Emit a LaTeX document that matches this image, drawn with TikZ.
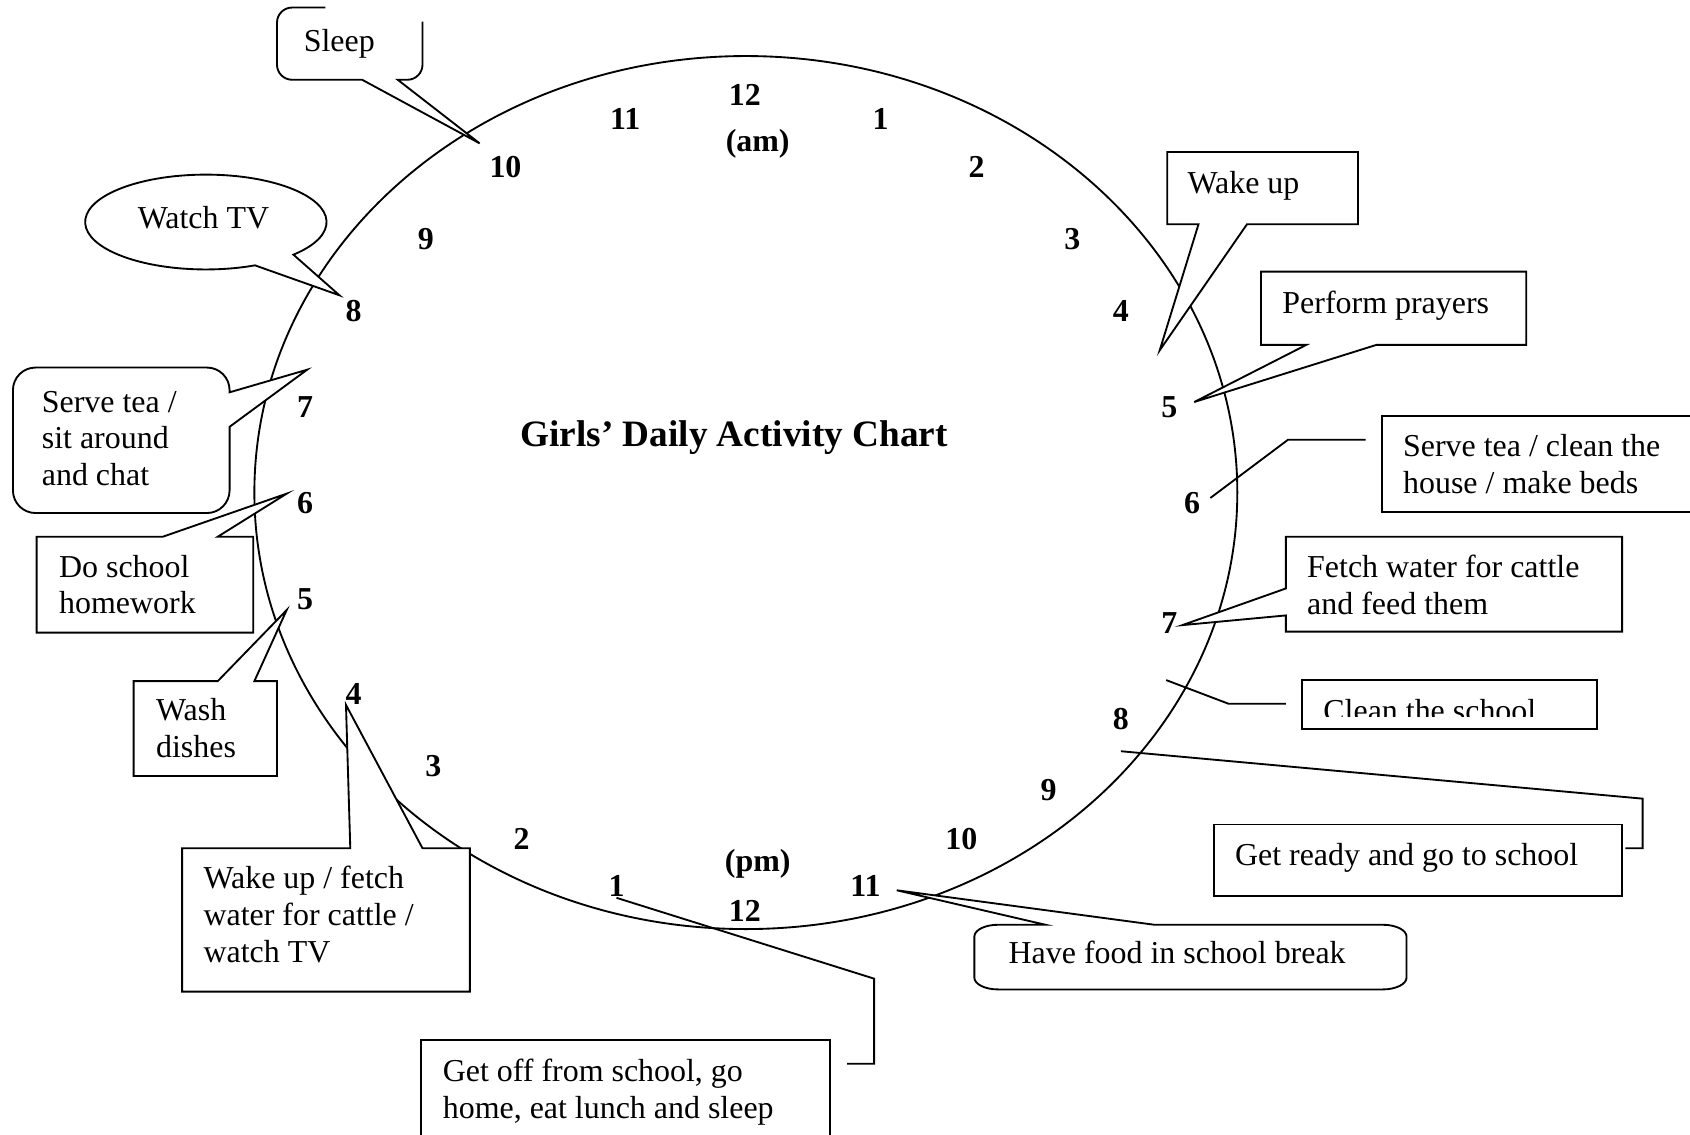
\documentclass[tikz,border=0pt]{standalone}
\usepackage{fontspec}
\setmainfont{Liberation Serif}
\begin{document}
\begin{tikzpicture}[x=0.405pt, y=-0.405pt, line width=0.7pt, line join=miter,
  every node/.style={inner sep=0pt},
  hour/.style={font=\fontsize{12pt}{13.8pt}\selectfont\bfseries, anchor=center},
  lbl/.style={font=\fontsize{12pt}{13.8pt}\selectfont, align=left, anchor=north west,
              execute at begin node=\strut},
  callout/.style={draw=black, fill=white},
  leader/.style={draw=black}
]
\useasboundingbox (0,0) rectangle (1568,1053);
\clip (0,0) rectangle (1568,1053);
\fill[white] (0,0) rectangle (1568,1053);

% clock face
\draw (692,457) ellipse [x radius=456, y radius=405];

% pointer tips and leader bends
\coordinate (sleeptip) at (445,133);
\coordinate (tvtip)    at (315,274);
\coordinate (chattip)  at (285,343);
\coordinate (hwtip)    at (266,458);
\coordinate (washtip)  at (266,566);
\coordinate (wftip)    at (321,654);
\coordinate (foodtip)  at (832,826);
\coordinate (fetchtip) at (1097,580);
\coordinate (prtip)    at (1108,373);
\coordinate (wutip)    at (1076,325);

\coordinate (go1) at (786,987);  \coordinate (go2) at (811,987);
\coordinate (go3) at (811,908);  \coordinate (go4) at (572,833);
\coordinate (gr1) at (1508,787); \coordinate (gr2) at (1524,787);
\coordinate (gr3) at (1524,741); \coordinate (gr4) at (1040,697);
\coordinate (cl1) at (1193,653); \coordinate (cl2) at (1140,653);
\coordinate (cl3) at (1082,631);
\coordinate (sc1) at (1267,408); \coordinate (sc2) at (1195,408);
\coordinate (sc3) at (1123,462);

% ---- callout shapes ----
% Sleep (rounded, top right corner open)
\draw[callout] (302,7) -- (271,7) arc[start angle=270, end angle=180, radius=14]
  -- (257,60) arc[start angle=180, end angle=90, radius=14]
  -- (336,74) -- (sleeptip) -- (369,74) -- (378,74)
  arc[start angle=90, end angle=0, radius=14] -- (392,20);

% Watch TV (oval)
\draw[callout] ([shift={(191,206)}]43.5:112 and 44)
  arc[start angle=43.5, end angle=-294, x radius=112, y radius=44]
  -- (tvtip) -- cycle;

% Serve tea / sit around and chat (rounded)
\draw[callout] (213,364) -- (chattip) -- (213,396) -- (213,455)
  arc[start angle=0, end angle=90, radius=21] -- (33,476)
  arc[start angle=90, end angle=180, radius=21] -- (12,362)
  arc[start angle=180, end angle=270, radius=21] -- (192,341)
  arc[start angle=270, end angle=360, radius=21] -- cycle;

% Do school homework
\draw[callout] (34,498) -- (151,498) -- (hwtip) -- (202,498) -- (235,498)
  -- (235,587) -- (34,587) -- cycle;

% Wash dishes
\draw[callout] (124,632) -- (202,632) -- (washtip) -- (236,632) -- (257,632)
  -- (257,720) -- (124,720) -- cycle;

% Wake up / fetch water / watch TV
\draw[callout] (169,787) -- (325,787) -- (wftip) -- (392,787) -- (436,787)
  -- (436,920) -- (169,920) -- cycle;

% Get off from school
\draw[callout] (391,965) rectangle (770,1080);

% Have food in school break
\draw[callout] (970,858) -- (foodtip) -- (1071,858) -- (1283,858)
  arc[start angle=270, end angle=360, x radius=22, y radius=11] -- (1305,907)
  arc[start angle=0, end angle=90, x radius=22, y radius=11] -- (926,918)
  arc[start angle=90, end angle=180, x radius=22, y radius=11] -- (904,869)
  arc[start angle=180, end angle=270, x radius=22, y radius=11] -- cycle;

% Get ready and go to school
\draw[callout] (1126,765) rectangle (1505,831);

% Clean the school
\draw[callout] (1208,631) rectangle (1482,676);

% Fetch water for cattle
\draw[callout] (1193,498) -- (1505,498) -- (1505,586) -- (1193,586) -- (1193,571)
  -- (fetchtip) -- (1193,546) -- cycle;

% Serve tea / clean the house
\draw[callout] (1282,386) rectangle (1580,475);

% Perform prayers
\draw[callout] (1170,252) -- (1416,252) -- (1416,320) -- (1277,320) -- (prtip)
  -- (1212,320) -- (1170,320) -- cycle;

% Wake up
\draw[callout] (1083,141) -- (1260,141) -- (1260,208) -- (1157,208) -- (wutip)
  -- (1112,208) -- (1083,208) -- cycle;

% ---- leader lines ----
\draw[leader] (go1) -- (go2) -- (go3) -- (go4);
\draw[leader] (gr1) -- (gr2) -- (gr3) -- (gr4);
\draw[leader] (cl1) -- (cl2) -- (cl3);
\draw[leader] (sc1) -- (sc2) -- (sc3);

% ---- activity texts ----
\node[lbl] (tSleep)   at (281,23)   {Sleep};
\node[lbl] (tTV)      at (127,187)  {Watch TV};
\node[lbl] (tChat)    at (38,362)   {Serve tea /\\sit around\\and chat};
\node[lbl] (tHW)      at (54,514)   {Do school\\homework};
\node[lbl] (tWash)    at (144,647)  {Wash\\dishes};
\node[lbl] (tWF)      at (188,803)  {Wake up / fetch\\water for cattle /\\watch TV};
\node[lbl] (tGetOff)  at (410,982)  {Get off from school, go\\home, eat lunch and sleep};
\node[lbl] (tFood)    at (935,869)  {Have food in school break};
\node[lbl] (tReady)   at (1145,778) {Get ready and go to school};
\node[lbl] (tFetch)   at (1212,514) {Fetch water for cattle\\and feed them};
\node[lbl] (tServe)   at (1301,402) {Serve tea / clean the\\house / make beds};
\node[lbl] (tPray)    at (1189,266) {Perform prayers};
\node[lbl] (tWake)    at (1101,155) {Wake up};
\begin{scope}
  \clip (1208,631) rectangle (1482,665);
  \node[lbl] (tClean) at (1227,645) {Clean the school};
\end{scope}

% ---- title ----
\node[font=\fontsize{14pt}{16pt}\selectfont\bfseries] (title) at (681,406)
  {Girls' Daily Activity Chart};

% ---- hours ----
\node[hour] (a12) at (691,88)   {12};
\node[hour] (am)  at (703,133)  {(am)};
\node[hour] (a1)  at (817,110)  {1};
\node[hour] (a2)  at (906,155)  {2};
\node[hour] (a3)  at (995,222)  {3};
\node[hour] (a4)  at (1040,289) {4};
\node[hour] (a5)  at (1085,378) {5};
\node[hour] (a6)  at (1106,467) {6};
\node[hour] (a7)  at (1085,578) {7};
\node[hour] (a8)  at (1040,667) {8};
\node[hour] (a9)  at (973,733)  {9};
\node[hour] (a10) at (892,778)  {10};
\node[hour] (a11) at (803,822)  {11};
\node[hour] (pm)  at (703,801)  {(pm)};
\node[hour] (p12) at (691,845)  {12};
\node[hour] (p1)  at (572,822)  {1};
\node[hour] (p2)  at (484,778)  {2};
\node[hour] (p3)  at (402,711)  {3};
\node[hour] (p4)  at (328,644)  {4};
\node[hour] (p5)  at (283,556)  {5};
\node[hour] (p6)  at (283,467)  {6};
\node[hour] (p7)  at (283,378)  {7};
\node[hour] (p8)  at (328,289)  {8};
\node[hour] (p9)  at (395,222)  {9};
\node[hour] (p10) at (469,155)  {10};
\node[hour] (p11) at (580,110)  {11};
\end{tikzpicture}
\end{document}
